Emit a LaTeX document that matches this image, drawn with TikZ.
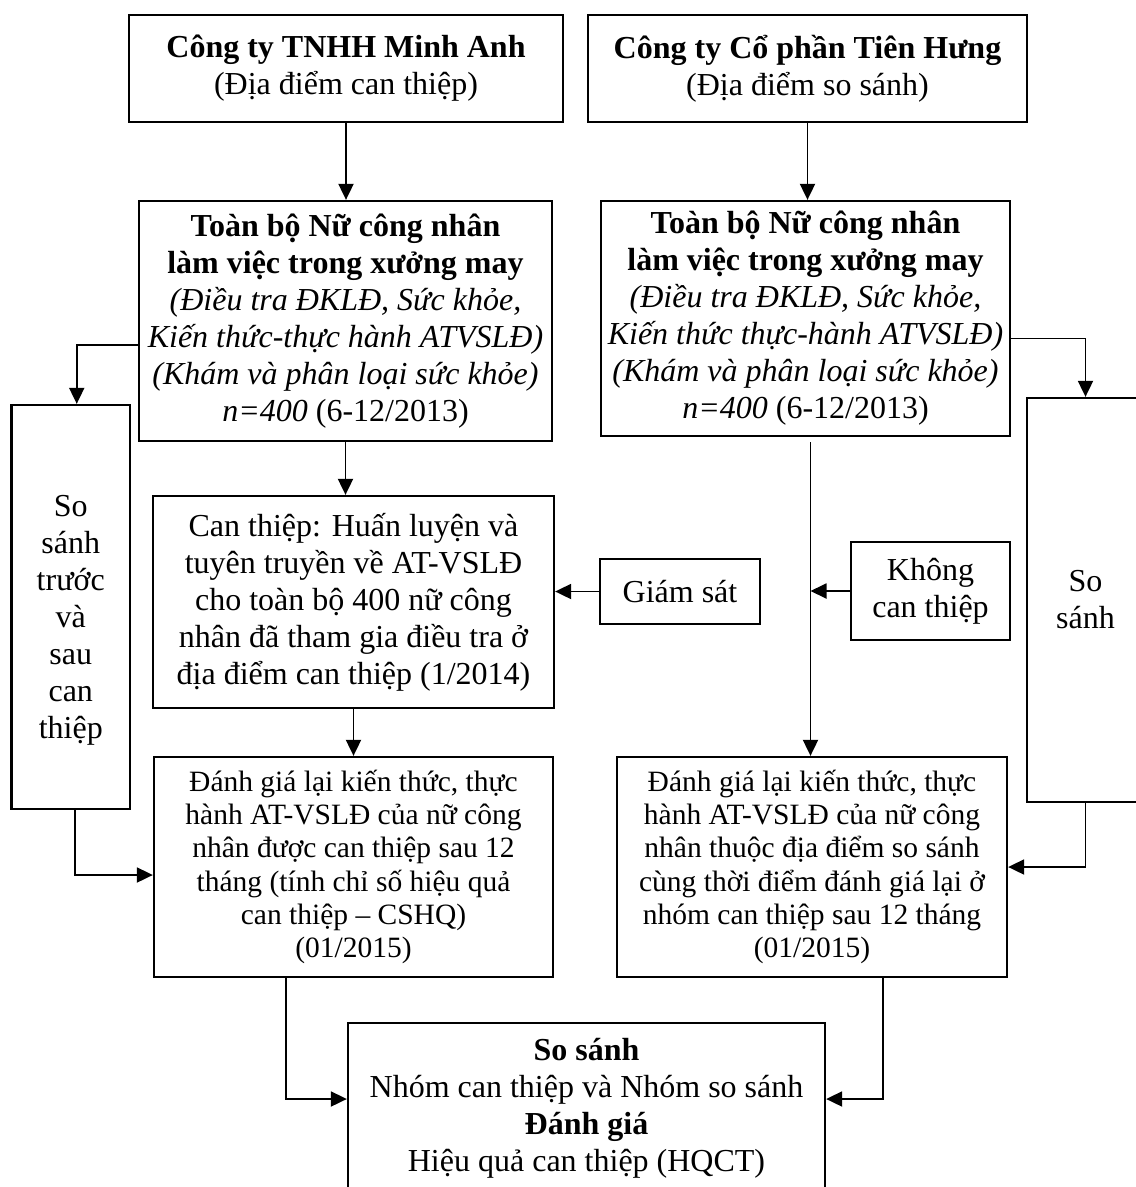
\documentclass[tikz,border=0pt]{standalone}
\usepackage{fontspec}
\setmainfont{Liberation Serif}
\usetikzlibrary{arrows.meta}
\newcommand\fsA{\fontsize{32}{37}\selectfont}
\newcommand\fsB{\fontsize{29.5}{33.3}\selectfont}
\begin{document}
\begin{tikzpicture}[x=1pt,y=-1pt,
  box/.style={draw, line width=2.3pt, inner sep=0pt, align=center, font=\fsA},
  boxB/.style={box, font=\fsB},
  arr/.style={line width=1.9pt, -{Triangle[length=16pt,width=15pt]}}]
\useasboundingbox (0,0) rectangle (1136,1187);
\fill[white] (0,0) rectangle (1136,1187);

\node[box, minimum width=434pt, minimum height=107pt] (A) at (346,68.5)
  {\textbf{Công ty TNHH Minh Anh}\\(Địa điểm can thiệp)};
\node[box, minimum width=439pt, minimum height=107pt] (B) at (807.5,68.5)
  {\textbf{Công ty Cổ phần Tiên Hưng}\\(Địa điểm so sánh)};

\node[box, minimum width=413pt, minimum height=240pt] (C) at (345.5,321)
  {\textbf{Toàn bộ Nữ công nhân}\\\textbf{làm việc trong xưởng may}\\
   \textit{(Điều tra ĐKLĐ, Sức khỏe,}\\\textit{Kiến thức-thực hành ATVSLĐ)}\\
   \textit{(Khám và phân loại sức khỏe)}\\\textit{n=400} (6-12/2013)};
\node[box, minimum width=409pt, minimum height=235pt] (D) at (805.5,318.5)
  {\textbf{Toàn bộ Nữ công nhân}\\\textbf{làm việc trong xưởng may}\\
   \textit{(Điều tra ĐKLĐ, Sức khỏe,}\\\textit{Kiến thức thực-hành ATVSLĐ)}\\
   \textit{(Khám và phân loại sức khỏe)}\\\textit{n=400} (6-12/2013)};

\node[box, minimum width=118.5pt, minimum height=404pt,
  label={[font=\fsA, align=center, yshift=-13pt]center:So\\sánh\\trước\\và\\sau\\can\\thiệp}] (L) at (70.75,607) {};
\node[box, minimum width=117pt, minimum height=404pt] (R) at (1085.5,600)
  {So\\sánh};

\node[box, minimum width=401pt, minimum height=212pt] (E) at (353.5,602)
  {Can thiệp: Huấn luyện và\\tuyên truyền về AT-VSLĐ\\cho toàn bộ 400 nữ công\\
   nhân đã tham gia điều tra ở\\địa điểm can thiệp (1/2014)};
\node[box, minimum width=160pt, minimum height=65pt] (Gs) at (680,591.5) {Giám sát};
\node[box, minimum width=159pt, minimum height=98pt] (K) at (930.5,591) {Không\\can thiệp};

\node[boxB, minimum width=399pt, minimum height=220pt] (F) at (353.5,867)
  {Đánh giá lại kiến thức, thực\\hành AT-VSLĐ của nữ công\\nhân được can thiệp sau 12\\
   tháng (tính chỉ số hiệu quả\\can thiệp – CSHQ)\\(01/2015)};
\node[boxB, minimum width=390pt, minimum height=220pt] (G) at (812,867)
  {Đánh giá lại kiến thức, thực\\hành AT-VSLĐ của nữ công\\nhân thuộc địa điểm so sánh\\
   cùng thời điểm đánh giá lại ở\\nhóm can thiệp sau 12 tháng\\(01/2015)};

\node[box, minimum width=477pt, minimum height=170pt] (H) at (586.5,1108)
  {\textbf{So sánh}\\Nhóm can thiệp và Nhóm so sánh\\\textbf{Đánh giá}\\Hiệu quả can thiệp (HQCT)};

% connectors
\draw[arr] (A.south) -- (A.south |- C.north);
\draw[arr] (B.south) -- (B.south |- D.north);
\draw[arr] ([yshift=-24pt]C.west) -| ([xshift=6pt]L.north);
\draw[arr] ([yshift=-20pt]D.east) -| (R.north);
\draw[arr] (C.south) -- (C.south |- E.north);
\draw[arr] (E.south) -- (E.south |- F.north);
\draw[arr] (Gs.west) -- (Gs.west -| E.east);
\coordinate (v1) at (810.5,442);
\draw[arr] (v1) -- (v1 |- G.north);
\draw[arr] (K.west) -- (K.west -| v1);
\draw[arr] ([xshift=4pt]L.south) |- ([yshift=-8pt]F.west);
\draw[arr] (R.south) |- (G.east);
\draw[arr] ([xshift=-67.5pt]F.south) |- ([yshift=9pt]H.west);
\draw[arr] ([xshift=71pt]G.south) |- ([yshift=9pt]H.east);
\end{tikzpicture}
\end{document}
